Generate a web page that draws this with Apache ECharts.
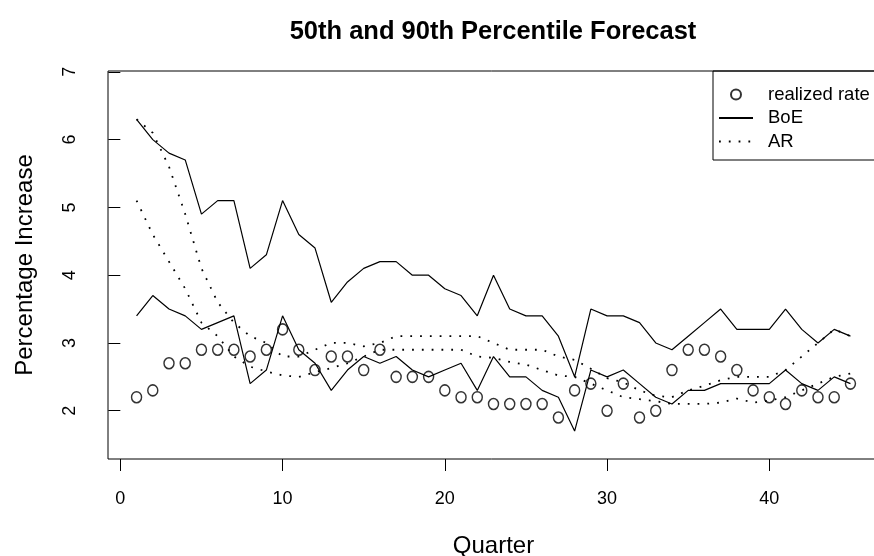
<!DOCTYPE html>
<html>
<head>
<meta charset="utf-8">
<script src="https://cdn.jsdelivr.net/npm/echarts@6/dist/echarts.min.js"></script>
<style>
html, body { margin: 0; padding: 0; background: #fff; }
#chart { width: 874px; height: 556px; }
</style>
</head>
<body>
<div id="chart"></div>
<script>
// quarter index and the five series
const quarters = [1, 2, 3, 4, 5, 6, 7, 8, 9, 10, 11, 12, 13, 14, 15, 16, 17, 18, 19, 20,
  21, 22, 23, 24, 25, 26, 27, 28, 29, 30, 31, 32, 33, 34, 35, 36, 37, 38, 39, 40,
  41, 42, 43, 44, 45]

const realized = [2.2, 2.3, 2.7, 2.7, 2.9, 2.9, 2.9, 2.8, 2.9, 3.2, 2.9, 2.6, 2.8, 2.8, 2.6,
  2.9, 2.5, 2.5, 2.5, 2.3, 2.2, 2.2, 2.1, 2.1, 2.1, 2.1, 1.9, 2.3, 2.4, 2.0,
  2.4, 1.9, 2.0, 2.6, 2.9, 2.9, 2.8, 2.6, 2.3, 2.2, 2.1, 2.3, 2.2, 2.2, 2.4]

const boe90 = [6.3, 6.0, 5.8, 5.7, 4.9, 5.1, 5.1, 4.1, 4.3, 5.1, 4.6, 4.4, 3.6, 3.9, 4.1,
  4.2, 4.2, 4.0, 4.0, 3.8, 3.7, 3.4, 4.0, 3.5, 3.4, 3.4, 3.1, 2.5, 3.5, 3.4,
  3.4, 3.3, 3.0, 2.9, 3.1, 3.3, 3.5, 3.2, 3.2, 3.2, 3.5, 3.2, 3.0, 3.2, 3.1]

const boe50 = [3.4, 3.7, 3.5, 3.4, 3.2, 3.3, 3.4, 2.4, 2.6, 3.4, 2.9, 2.7, 2.3, 2.6, 2.8,
  2.7, 2.8, 2.6, 2.5, 2.6, 2.7, 2.3, 2.8, 2.5, 2.5, 2.3, 2.2, 1.7, 2.6, 2.5,
  2.6, 2.4, 2.2, 2.1, 2.3, 2.3, 2.4, 2.4, 2.4, 2.4, 2.6, 2.4, 2.3, 2.5, 2.4]

const ar90 = [6.3, 6.1, 5.6, 4.9, 4.1, 3.6, 3.3, 3.1, 3.0, 2.8, 2.8, 2.9, 3.0, 3.0, 2.95,
  3.0, 3.1, 3.1, 3.1, 3.1, 3.1, 3.1, 3.0, 2.9, 2.9, 2.9, 2.8, 2.75, 2.62, 2.48,
  2.42, 2.3, 2.22, 2.2, 2.3, 2.37, 2.45, 2.5, 2.5, 2.5, 2.6, 2.8, 3.0, 3.2, 3.1]

const ar50 = [5.1, 4.6, 4.2, 3.8, 3.3, 3.1, 2.8, 2.65, 2.58, 2.52, 2.5, 2.57, 2.63, 2.7, 2.8,
  2.9, 2.9, 2.9, 2.9, 2.9, 2.9, 2.8, 2.78, 2.72, 2.68, 2.6, 2.52, 2.5, 2.4, 2.3,
  2.2, 2.17, 2.14, 2.1, 2.1, 2.1, 2.12, 2.18, 2.12, 2.15, 2.2, 2.3, 2.4, 2.5, 2.55]

const xTicks = [0, 10, 20, 30, 40]
const yTicks = [2, 3, 4, 5, 6, 7]

const font = 'Liberation Sans, Arial, sans-serif'

function pairs(values) {
  return quarters.map((q, i) => [q, values[i]])
}

const chart = echarts.init(document.getElementById('chart'))

const solid = { color: '#000', width: 1.2 }
const dotted = { color: '#000', width: 1.8, type: [1.8, 8], cap: 'butt' }
// line series put a circle in their legend icon when symbol is 'none'; hide it
const noMarker = { opacity: 0 }

chart.setOption({
  animation: false,
  backgroundColor: '#fff',
  title: {
    text: '50th and 90th Percentile Forecast',
    left: 493,
    top: 19,
    textAlign: 'center',
    padding: 0,
    textStyle: { fontFamily: font, fontSize: 25.5, fontWeight: 'bold', color: '#000', lineHeight: 26 }
  },
  grid: {
    left: 108,
    top: 71,
    width: 771,
    height: 388,
    show: true,
    borderColor: '#000',
    borderWidth: 1,
    backgroundColor: 'transparent',
    outerBoundsMode: 'none'
  },
  legend: {
    orient: 'vertical',
    left: 713,
    top: 71,
    padding: [14, 10, 9, 5],
    itemGap: 4.5,
    itemWidth: 34,
    itemHeight: 10,
    borderColor: '#000',
    borderWidth: 1,
    borderRadius: 0,
    selectedMode: false,
    data: [
      { name: 'realized rate' },
      { name: 'BoE', itemStyle: noMarker },
      { name: 'AR', itemStyle: noMarker }
    ],
    textStyle: { fontFamily: font, fontSize: 18.5, color: '#000', lineHeight: 18, padding: [0, 0, 0, 10] }
  },
  xAxis: {
    type: 'value',
    min: -0.76,
    max: 46.76,
    axisLine: { show: false },
    splitLine: { show: false },
    axisTick: { show: true, length: 12, customValues: xTicks, lineStyle: { color: '#000', width: 1 } },
    axisLabel: { customValues: xTicks, margin: 31, fontFamily: font, fontSize: 18, color: '#000' },
    name: 'Quarter',
    nameLocation: 'middle',
    nameGap: 75,
    nameTextStyle: { fontFamily: font, fontSize: 24, color: '#000' }
  },
  yAxis: {
    type: 'value',
    min: 1.288,
    max: 7.012,
    axisLine: { show: false },
    splitLine: { show: false },
    axisTick: { show: true, length: 12, customValues: yTicks, lineStyle: { color: '#000', width: 1 } },
    axisLabel: { customValues: yTicks, rotate: 90, margin: 29, fontFamily: font, fontSize: 18, color: '#000' },
    name: 'Percentage Increase',
    nameLocation: 'middle',
    nameRotate: 90,
    nameGap: 71,
    nameTextStyle: { fontFamily: font, fontSize: 24, color: '#000' }
  },
  series: [
    {
      name: 'realized rate',
      type: 'scatter',
      data: pairs(realized),
      symbol: 'circle',
      symbolSize: [10, 11],
      itemStyle: { color: 'transparent', borderColor: '#000', borderWidth: 1.5 },
      z: 3
    },
    { name: 'BoE', type: 'line', data: pairs(boe90), symbol: 'none', lineStyle: solid, itemStyle: { color: '#000' } },
    { name: 'BoE', type: 'line', data: pairs(boe50), symbol: 'none', lineStyle: solid, itemStyle: { color: '#000' } },
    { name: 'AR', type: 'line', data: pairs(ar90), symbol: 'none', lineStyle: dotted, itemStyle: { color: '#000' } },
    { name: 'AR', type: 'line', data: pairs(ar50), symbol: 'none', lineStyle: dotted, itemStyle: { color: '#000' } }
  ]
})
</script>
</body>
</html>
